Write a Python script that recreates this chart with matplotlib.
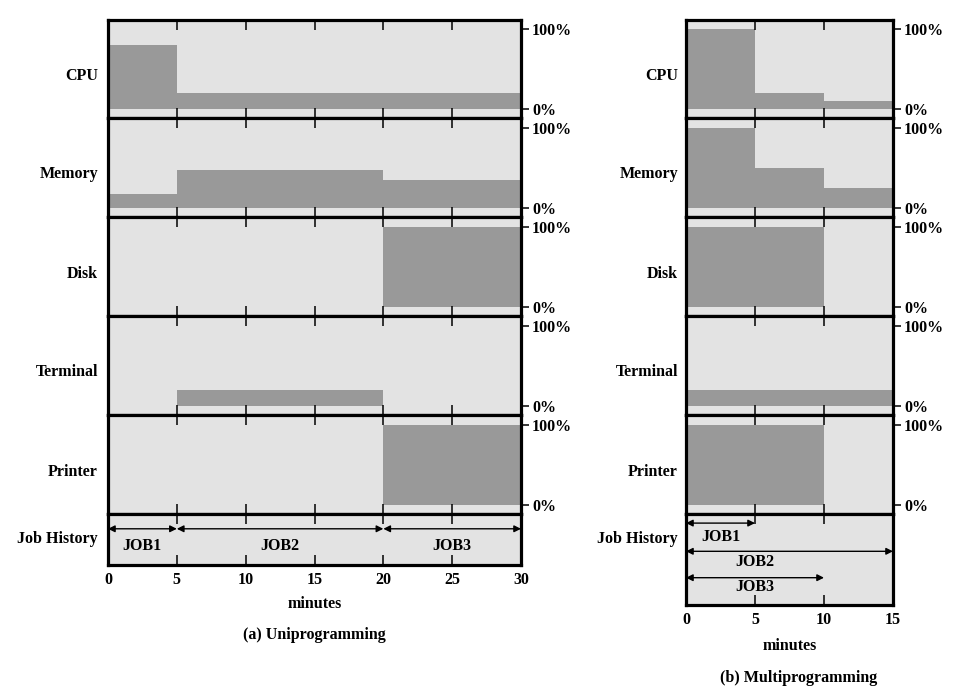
import matplotlib
matplotlib.use("Agg")
import matplotlib.pyplot as plt

# ---------------- data ----------------
resources = ["CPU", "Memory", "Disk", "Terminal", "Printer"]

edges_uni = [0, 5, 20, 30]
cpu_uni = [80, 20, 20]
mem_uni = [18, 48, 35]
disk_uni = [0, 0, 100]
term_uni = [0, 20, 0]
printer_uni = [0, 0, 100]

edges_multi = [0, 5, 10, 15]
cpu_multi = [100, 20, 10]
mem_multi = [100, 50, 25]
disk_multi = [100, 100, 0]
term_multi = [20, 20, 20]
printer_multi = [100, 100, 0]

job_names = ["JOB1", "JOB2", "JOB3"]
jobs_uni_start = [0, 5, 20]
jobs_uni_end = [5, 20, 30]
jobs_multi_start = [0, 0, 0]
jobs_multi_end = [5, 15, 10]
jobs_multi_label_x = [2.5, 5, 5]

xticks_uni = [0, 5, 10, 15, 20, 25, 30]
xticks_multi = [0, 5, 10, 15]
pct_ticks = [0, 100]
pct_labels = ["0%", "100%"]

# ---------------- style ----------------
W, H = 956, 694
DPI = 100
BG = "#e3e3e3"
BAR = "#999999"
FONT = "Liberation Serif"
FS = 11.5
plt.rcParams["font.family"] = [FONT, "DejaVu Serif"]
plt.rcParams["font.weight"] = "bold"

fig = plt.figure(figsize=(W / DPI, H / DPI), dpi=DPI)


def add_ax(x0, y0, x1, y1):
    return fig.add_axes([x0 / W, 1 - y1 / H, (x1 - x0) / W, (y1 - y0) / H])


def ftext(px, py, s, ha="center"):
    fig.text(px / W, 1 - py / H, s, ha=ha, va="center",
             fontsize=FS, fontweight="bold")


row_bounds = [19.5, 118, 217, 316, 415, 514]
YLIM = (-11, 112)
JH_LABEL_Y = 539


def draw_side(x0, x1, edges, series, xticks, jh_bottom, label_x):
    xmax = edges[-1]
    for i, (name, vals) in enumerate(zip(resources, series)):
        ax = add_ax(x0, row_bounds[i], x1, row_bounds[i + 1])
        ax.set_facecolor(BG)
        ax.stairs(vals, edges, fill=True, baseline=0, color=BAR, lw=0)
        ax.set_xlim(0, xmax)
        ax.set_ylim(*YLIM)
        ax.set_xticks(xticks)
        ax.tick_params(axis="x", direction="in", top=True, bottom=True,
                       length=7, width=1.1, labelbottom=False)
        ax.yaxis.tick_right()
        ax.set_yticks(pct_ticks)
        ax.set_yticklabels(pct_labels, fontsize=FS, fontweight="bold")
        ax.tick_params(axis="y", direction="out", length=6, width=1.1, pad=2)
        for s in ax.spines.values():
            s.set_linewidth(2.3)
        ftext(label_x, (row_bounds[i] + row_bounds[i + 1]) / 2 + 7, name, ha="right")
    jh = add_ax(x0, row_bounds[-1], x1, jh_bottom)
    jh.set_facecolor(BG)
    jh.set_xlim(0, xmax)
    jh.set_ylim(1, 0)
    jh.set_yticks([])
    jh.set_xticks(xticks)
    jh.set_xticklabels([str(t) for t in xticks], fontsize=FS, fontweight="bold")
    jh.tick_params(axis="x", direction="in", top=True, bottom=True,
                   length=7, width=1.1, pad=5)
    for s in jh.spines.values():
        s.set_linewidth(2.3)
    ftext(label_x, JH_LABEL_Y, "Job History", ha="right")
    return jh


def arrow(ax, a, b, y):
    ax.annotate("", xy=(b, y), xytext=(a, y),
                arrowprops=dict(arrowstyle="<|-|>", lw=1.0, color="black",
                                mutation_scale=10, shrinkA=0, shrinkB=0))


# ---- left: uniprogramming ----
jhL = draw_side(108, 521, edges_uni,
                [cpu_uni, mem_uni, disk_uni, term_uni, printer_uni],
                xticks_uni, 565, 98)
for name, a, b in zip(job_names, jobs_uni_start, jobs_uni_end):
    arrow(jhL, a, b, 0.29)
    jhL.text((a + b) / 2, 0.62, name, ha="center", va="center",
             fontsize=FS, fontweight="bold")
ftext(314.5, 604, "minutes")
ftext(314.5, 635, "(a) Uniprogramming")

# ---- right: multiprogramming ----
jhR = draw_side(686, 893, edges_multi,
                [cpu_multi, mem_multi, disk_multi, term_multi, printer_multi],
                xticks_multi, 605, 678)
arrow_y = [0.10, 0.41, 0.70]
label_y = [0.25, 0.53, 0.80]
for name, a, b, lx, ay, ly in zip(job_names, jobs_multi_start, jobs_multi_end,
                                  jobs_multi_label_x, arrow_y, label_y):
    arrow(jhR, a, b, ay)
    jhR.text(lx, ly, name, ha="center", va="center", fontsize=FS, fontweight="bold")
ftext(789.5, 646, "minutes")
ftext(799, 678, "(b) Multiprogramming")

fig.savefig("out.png", dpi=DPI)
